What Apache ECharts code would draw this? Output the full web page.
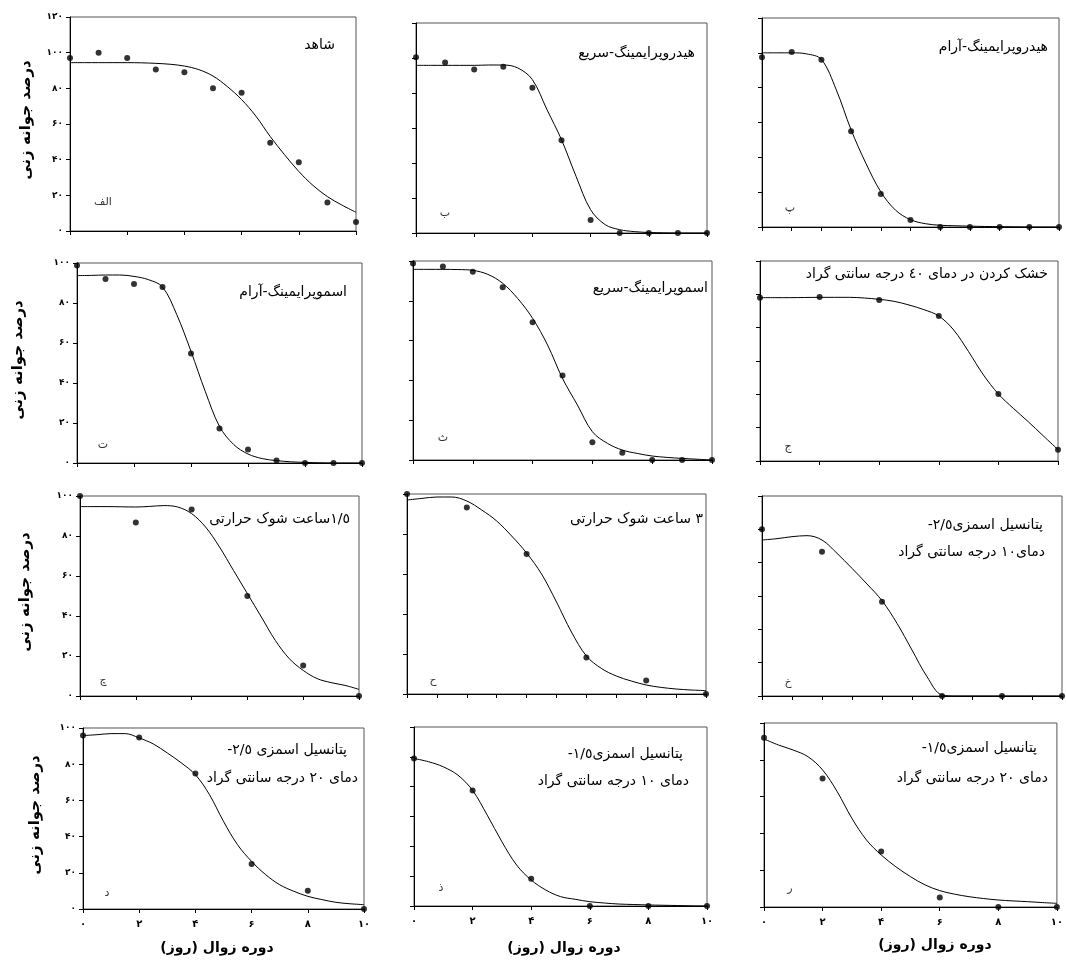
<!DOCTYPE html>
<html>
<head>
<meta charset="utf-8">
<script src="https://cdn.jsdelivr.net/npm/echarts@6/dist/echarts.min.js"></script>
<style>
  html, body { margin: 0; padding: 0; background: #fff; }
  #chart { width: 1066px; height: 960px; }
</style>
</head>
<body>
<div id="chart"></div>
<script>
// x positions
const days = [0, 1, 2, 3, 4, 5, 6, 7, 8, 9, 10];
const evenDays = [0, 2, 4, 6, 8, 10];
const fitDays = [0, 0.5, 1, 1.5, 2, 2.5, 3, 3.5, 4, 4.5, 5, 5.5, 6, 6.5, 7, 7.5, 8, 8.5, 9, 9.5, 10];

// الف - شاهد
const controlPts = [97, 100, 97, 90.5, 89, 80, 77.5, 49.5, 38.5, 16, 5];
const controlFit = [94.4, 94.4, 94.4, 94.4, 94.4, 94.3, 94, 93.5, 92.5, 90.5, 86.9, 81, 73.7, 64.4, 53, 42.8, 33.4, 25.5, 19.3, 14.6, 10.5];
// ب - هیدروپرایمینگ سریع
const hydroFastPts = [100.5, 97.5, 93.5, 95, 83, 53, 7.5, 0, 0, 0, 0];
const hydroFastFit = [95.8, 95.8, 95.8, 95.8, 95.8, 96, 96, 94.3, 87.6, 70.5, 53.3, 32.4, 13.3, 4.8, 1.9, 0.8, 0.3, 0.1, 0, 0, 0];
// پ - هیدروپرایمینگ آرام
const hydroSlowPts = [97.5, 100.5, 96, 55, 19, 4, 0, 0, 0, 0, 0];
const hydroSlowFit = [100, 100, 100, 99.4, 96.2, 78.8, 55.8, 36.5, 20.2, 9.6, 4.2, 1.9, 1, 0.7, 0.5, 0.3, 0.2, 0.1, 0, 0, 0];
// ت - اسموپرایمینگ آرام
const osmoSlowPts = [98.8, 92, 89.5, 88, 54.8, 17.3, 6.7, 1.3, 0, 0, 0];
const osmoSlowFit = [93.7, 93.8, 94, 94, 93.3, 91.7, 88, 74.2, 55.8, 35.8, 18.3, 9.2, 4.5, 2.2, 1.2, 0.6, 0.3, 0.1, 0, 0, 0];
// ث - اسموپرایمینگ سریع
const osmoFastPts = [98.8, 97.2, 94.6, 86.8, 69.2, 42.4, 8.9, 3.7, 0, 0, 0];
const osmoFastFit = [95.8, 95.8, 95.8, 95.7, 95.3, 93.3, 88.8, 81.2, 71.2, 57.8, 41, 27.6, 14.2, 8.4, 5, 3.3, 2, 1.3, 0.8, 0.4, 0];
// ج - خشک کردن ۴۰ درجه
const dry40Pts = [98, 98.4, 96.6, 87, 40.2, 6.8];
const dry40Fit = [98, 98, 98, 98.1, 98.2, 98.2, 98.2, 97.8, 97, 95.8, 93.6, 90.8, 87, 78.6, 65.6, 51.6, 40.2, 31.6, 23.6, 15.2, 6.8];
// چ - ۱/۵ ساعت شوک حرارتی
const heat15Pts = [100, 86.7, 93.3, 50, 15.3, 0];
const heat15Fit = [94.7, 94.7, 94.7, 94.6, 94.5, 94.8, 95.2, 94.5, 91.2, 84.5, 74.5, 62.8, 51.2, 39.5, 27.8, 18.7, 12.8, 8.7, 6.7, 5.3, 3.3];
// ح - ۳ ساعت شوک حرارتی
const heat3Pts = [100, 93.2, 70, 18.3, 6.7, 0];
const heat3Fit = [97, 97.8, 98.5, 98.5, 96.5, 92, 86.5, 79, 70.5, 60, 46, 31, 19, 12.8, 9, 6.5, 4.5, 3.3, 2.5, 2, 1.7];
// خ - پتانسیل -۲/۵، ۱۰ درجه
const psi25t10Pts = [100, 86.6, 56.6, 0, 0, 0];
const psi25t10Fit = [93.6, 94.4, 95.6, 96.2, 93.6, 85.6, 76.6, 67.2, 57.2, 43.6, 27.6, 11.6, 0.6, 0, 0, 0, 0, 0, 0, 0, 0];
// د - پتانسیل -۲/۵، ۲۰ درجه
const psi25t20Pts = [95.8, 94.8, 74.8, 24.9, 10.1, 0];
const psi25t20Fit = [95.8, 96.3, 96.9, 96.9, 94.5, 91.2, 86.2, 80.7, 74.2, 63.2, 48.4, 35.5, 26.3, 19, 13.4, 9.8, 7, 5.2, 3.7, 2.9, 2.4];
// ذ - پتانسیل -۱/۵، ۱۰ درجه
const psi15t10Pts = [98.9, 77.5, 18.3, 0, 0, 0];
const psi15t10Fit = [98.9, 96.7, 93.3, 87.7, 77.5, 60.9, 43.1, 27.5, 17.4, 10.7, 6.3, 4.5, 2.9, 2, 1.3, 1, 0.7, 0.5, 0.3, 0.1, 0];
// ر - پتانسیل -۱/۵، ۲۰ درجه
const psi15t20Pts = [92, 69.9, 30.1, 5.1, 0, 0];
const psi15t20Fit = [91.3, 88, 85.3, 81.7, 74.5, 62.7, 48.2, 36.4, 28.3, 21.9, 16.5, 12, 8.9, 7, 5.6, 4.6, 3.8, 3.3, 2.9, 2.4, 2];

const yTitle = 'درصد جوانه زنی';
const xTitle = 'دوره زوال (روز)';

const FONT = '"DejaVu Sans", "Noto Sans", sans-serif';

function fa(v) {
  return String(v).replace(/\d/g, d => '۰۱۲۳۴۵۶۷۸۹'[d]);
}
function rtl(s) {
  return '\u200f' + s + '\u200f';
}

// layout of each panel
const panels = [
  { g: [70, 17, 286, 214], yMax: 120, xInt: 2, x: days, pts: controlPts, fit: controlFit,
    title: ['شاهد'], tPos: [[335, 45]], tag: 'الف', tagPos: [103, 202] },
  { g: [416, 23, 291, 210], yMax: 120, xInt: 2, x: days, pts: hydroFastPts, fit: hydroFastFit,
    title: ['هیدروپرایمینگ-سریع'], tPos: [[695, 53]], tag: 'ب', tagPos: [445, 213] },
  { g: [762, 18, 297, 209], yMax: 120, xInt: 1, x: days, pts: hydroSlowPts, fit: hydroSlowFit,
    title: ['هیدروپرایمینگ-آرام'], tPos: [[1048, 47]], tag: 'پ', tagPos: [790, 208] },
  { g: [77, 263, 285, 200], yMax: 100, xInt: 2, x: days, pts: osmoSlowPts, fit: osmoSlowFit,
    title: ['اسموپرایمینگ-آرام'], tPos: [[347, 292]], tag: 'ت', tagPos: [103, 445] },
  { g: [413, 261, 299, 199], yMax: 100, xInt: 2, x: days, pts: osmoFastPts, fit: osmoFastFit,
    title: ['اسموپرایمینگ-سریع'], tPos: [[708, 288]], tag: 'ث', tagPos: [443, 438] },
  { g: [760, 261, 298, 200], yMax: 120, xInt: 2, x: evenDays, pts: dry40Pts, fit: dry40Fit,
    title: ['خشک کردن در دمای ٤٠ درجه سانتی گراد'], tPos: [[1048, 274]], tag: 'ج', tagPos: [788, 447] },
  { g: [80, 496, 279, 200], yMax: 100, xInt: 2, x: evenDays, pts: heat15Pts, fit: heat15Fit,
    title: ['١/٥ساعت شوک حرارتی'], tPos: [[350, 519]], tag: 'چ', tagPos: [103, 680] },
  { g: [407, 494, 299, 200], yMax: 100, xInt: 1, x: evenDays, pts: heat3Pts, fit: heat3Fit,
    title: ['٣ ساعت شوک حرارتی'], tPos: [[703, 519]], tag: 'ح', tagPos: [433, 680] },
  { g: [762, 496, 300, 200], yMax: 120, xInt: 1, x: evenDays, pts: psi25t10Pts, fit: psi25t10Fit,
    title: ['پتانسیل اسمزی٢/٥-', 'دمای١٠ درجه سانتی گراد'], tPos: [[1043, 525], [1045, 552]], tag: 'خ', tagPos: [788, 682] },
  { g: [83, 728, 281, 181], yMax: 100, xInt: 2, x: evenDays, pts: psi25t20Pts, fit: psi25t20Fit,
    title: ['پتانسیل اسمزی ٢/٥-', 'دمای ٢٠ درجه سانتی گراد'], tPos: [[347, 750], [358, 778]], tag: 'د', tagPos: [107, 893] },
  { g: [414, 727, 293, 179], yMax: 120, xInt: 2, x: evenDays, pts: psi15t10Pts, fit: psi15t10Fit,
    title: ['پتانسیل اسمزی١/٥-', 'دمای ١٠ درجه سانتی گراد'], tPos: [[683, 754], [689, 781]], tag: 'ذ', tagPos: [441, 888] },
  { g: [764, 723, 299, 184], yMax: 100, xInt: 2, x: evenDays, pts: psi15t20Pts, fit: psi15t20Fit,
    title: ['پتانسیل اسمزی١/٥-', 'دمای ٢٠ درجه سانتی گراد'], tPos: [[1037, 748], [1048, 778]], tag: 'ر', tagPos: [790, 888] }
];

const grid = [], xAxis = [], yAxis = [], series = [], graphic = [];

panels.forEach((p, i) => {
  const firstCol = i % 3 === 0;
  const bottomRow = i >= 9;
  grid.push({
    left: p.g[0], top: p.g[1], width: p.g[2], height: p.g[3],
    show: true, borderColor: '#555', borderWidth: 1, backgroundColor: 'transparent'
  });
  xAxis.push({
    gridIndex: i, type: 'value', min: 0, max: 10, interval: p.xInt,
    axisLine: { lineStyle: { color: '#000', width: 1 } },
    axisTick: { length: 4, lineStyle: { color: '#000' } },
    axisLabel: {
      show: bottomRow, color: '#000', fontSize: 10, fontWeight: 'bold', fontFamily: FONT,
      margin: 10, formatter: fa
    },
    splitLine: { show: false }
  });
  yAxis.push({
    gridIndex: i, type: 'value', min: 0, max: p.yMax, interval: 20,
    axisLine: { show: true, lineStyle: { color: '#000', width: 1 } },
    axisTick: { show: true, length: 4, lineStyle: { color: '#000' } },
    axisLabel: {
      show: firstCol, color: '#000', fontSize: 9, fontWeight: 'bold', fontFamily: FONT,
      margin: 7, formatter: fa
    },
    splitLine: { show: false }
  });
  series.push({
    type: 'line', xAxisIndex: i, yAxisIndex: i,
    data: fitDays.map((d, k) => [d, p.fit[k]]),
    smooth: 0.35, showSymbol: false, silent: true,
    lineStyle: { color: '#000', width: 1 }, z: 2
  });
  series.push({
    type: 'scatter', xAxisIndex: i, yAxisIndex: i,
    data: p.x.map((d, k) => [d, p.pts[k]]),
    symbolSize: 6, itemStyle: { color: '#000' }, z: 3
  });

  p.title.forEach((t, k) => {
    graphic.push({
      type: 'text', x: p.tPos[k][0], y: p.tPos[k][1], silent: true,
      style: { text: rtl(t), fontSize: 14, fontFamily: FONT, fill: '#000', align: 'right', verticalAlign: 'middle' }
    });
  });
  graphic.push({
    type: 'text', x: p.tagPos[0], y: p.tagPos[1], silent: true,
    style: { text: p.tag, fontSize: 11, fontFamily: FONT, fill: '#333', align: 'center', verticalAlign: 'middle' }
  });
});

// axis titles
[[26, 120], [18, 360], [25, 592], [35, 815]].forEach(pos => {
  graphic.push({
    type: 'text', x: pos[0], y: pos[1], rotation: Math.PI / 2, silent: true,
    style: { text: rtl(yTitle), fontSize: 15, fontWeight: 'bold', fontFamily: FONT, fill: '#000', align: 'center', verticalAlign: 'middle' }
  });
});
[[217, 948], [564, 948], [935, 945]].forEach(pos => {
  graphic.push({
    type: 'text', x: pos[0], y: pos[1], silent: true,
    style: { text: rtl(xTitle), fontSize: 14, fontWeight: 'bold', fontFamily: FONT, fill: '#000', align: 'center', verticalAlign: 'middle' }
  });
});

const chart = echarts.init(document.getElementById('chart'));
chart.setOption({
  animation: false,
  backgroundColor: '#fff',
  textStyle: { fontFamily: FONT },
  grid: grid,
  xAxis: xAxis,
  yAxis: yAxis,
  series: series,
  graphic: graphic
});
</script>
</body>
</html>
